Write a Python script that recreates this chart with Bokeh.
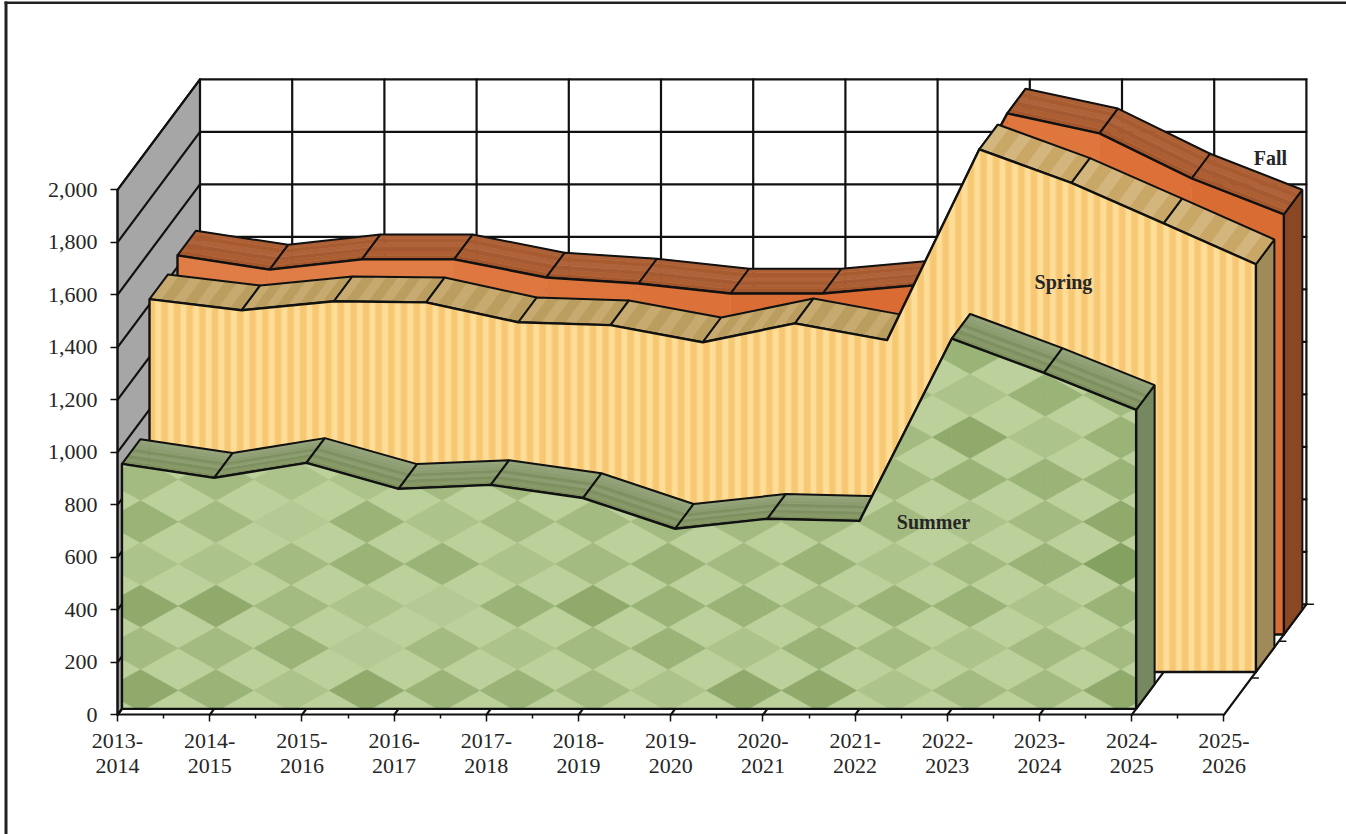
from bokeh.plotting import figure
from bokeh.models import Range1d, FixedTicker, BoxAnnotation, ColumnDataSource
from bokeh.core.properties import value
from bokeh.embed import file_html
from bokeh.resources import INLINE

# ---------- data ----------
SEASONS = ["2013-\n2014", "2014-\n2015", "2015-\n2016", "2016-\n2017", "2017-\n2018", "2018-\n2019", "2019-\n2020",
           "2020-\n2021", "2021-\n2022", "2022-\n2023", "2023-\n2024", "2024-\n2025", "2025-\n2026"]
SUMMER = [933, 880, 937, 838, 853, 803, 686, 724, 716, 1410, 1280, 1139]
SPRING = [1420, 1378, 1412, 1408, 1332, 1321, 1256, 1328, 1264, 1991, 1863, 1709, 1553]
FALL = [1444, 1390, 1429, 1429, 1360, 1337, 1299, 1299, 1330, 1985, 1909, 1737, 1600]
Y_TICKS = [0, 200, 400, 600, 800, 1000, 1200, 1400, 1600, 1800, 2000]
LABELS = ["Summer", "Spring", "Fall"]
LABEL_CAT = [8.85, 10.26, 12.505]
LABEL_VAL = [736, 1650, 2123]

# Diamond tones of the summer texture: row (from bottom) -> tone per column
TONE_ROWS = [
    [4, 3, 1, 4, 3, 3, 2, 1, 4, 4, 1, 2, 2, 4],
    [2, 2, 3, 0, 2, 1, 2, 3, 1, 3, 2, 1, 2, 2],
    [4, 4, 2, 1, 0, 3, 4, 3, 3, 2, 3, 3, 1, 3],
    [1, 1, 2, 3, 3, 1, 2, 3, 2, 3, 1, 2, 3, 5],
    [3, 2, 0, 3, 1, 2, 2, 2, 2, 2, 2, 1, 2, 4],
    [2, 2, 1, 1, 2, 2, 1, 2, 2, 2, 2, 3, 3, 3],
    [2, 2, 1, 1, 2, 2, 1, 2, 2, 2, 2, 4, 1, 3],
    [2, 2, 1, 1, 2, 2, 1, 2, 2, 2, 2, 1, 3, 2],
    [2, 2, 1, 1, 2, 2, 1, 2, 2, 2, 2, 3, 2, 2],
]
TONES = ["#b4c993", "#acc38c", "#a3bb81", "#9ab377", "#90aa6c", "#85a15f"]
FALL_FRONT_TONES = ["#e07c45", "#e07c45", "#e07c45", "#de7840", "#dd743c", "#dc723a",
                    "#da6d35", "#d96b33", "#dc7239", "#de763e", "#dc7038", "#d96c33"]

# ---------- scales (pixels per data unit) ----------
W, H = 1346, 834
PX_CAT, PX_VAL = 92.2, 0.2625
X0, Y0 = 117.0, 714.3
DX, DY = 82.5 / PX_CAT, 110.5 / PX_VAL          # one full depth in data units
D_SUM = (0.054, 0.278)
D_SPR = (0.388, 0.612)
D_FAL = (0.727, 0.951)

p = figure(width=W, height=H, output_backend="svg", toolbar_location=None,
           x_range=Range1d(-X0 / PX_CAT, (W - X0) / PX_CAT),
           y_range=Range1d(-(H - Y0) / PX_VAL, Y0 / PX_VAL),
           x_axis_location="below", y_axis_location="left", min_border=0)
p.grid.visible = False
p.outline_line_color = None


def proj(i, v, d=0.0):
    return i + d * DX, v + d * DY


def clip(subject, convex):
    """Sutherland-Hodgman; both are lists of (x, y)."""
    area = sum(convex[k][0] * convex[(k + 1) % len(convex)][1] - convex[(k + 1) % len(convex)][0] * convex[k][1]
               for k in range(len(convex)))
    sgn = 1 if area > 0 else -1
    out = list(subject)
    for k in range(len(convex)):
        a, b = convex[k], convex[(k + 1) % len(convex)]
        inp, out = out, []
        if not inp:
            break
        side = lambda q: sgn * ((b[0] - a[0]) * (q[1] - a[1]) - (b[1] - a[1]) * (q[0] - a[0]))
        for m in range(len(inp)):
            c, e = inp[m], inp[(m + 1) % len(inp)]
            sc, se = side(c), side(e)
            if sc >= 0:
                out.append(c)
            if (sc >= 0) != (se >= 0):
                t = sc / (sc - se)
                out.append((c[0] + t * (e[0] - c[0]), c[1] + t * (e[1] - c[1])))
    return out


def area_cols(vals, d):
    cols = []
    for k in range(len(vals) - 1):
        x0, y0 = proj(k, vals[k], d)
        x1, y1 = proj(k + 1, vals[k + 1], d)
        _, b = proj(k, 0, d)
        cols.append([(x0, b), (x1, b), (x1, y1), (x0, y0)])
    return cols


def front_polygon(vals, d):
    xs = [proj(k, v, d)[0] for k, v in enumerate(vals)]
    ys = [proj(k, v, d)[1] for k, v in enumerate(vals)]
    b = proj(0, 0, d)[1]
    return xs + [xs[-1], xs[0]], ys + [b, b]


def draw_polys(polys, colors, lw=0.6):
    src = ColumnDataSource(dict(xs=[[q[0] for q in P] for P in polys],
                                ys=[[q[1] for q in P] for P in polys], c=colors))
    p.patches("xs", "ys", source=src, fill_color="c", line_color="c", line_width=lw)


def lines(xs, ys, color="#111111", width=2.2):
    p.multi_line(xs, ys, line_color=color, line_width=width, line_join="round", line_cap="round")


# ---------- walls and floor ----------
p.patch([0, 0, DX, DX], [0, 2000, 2000 + DY, DY], fill_color="#a6a6a6", line_color="#111111", line_width=2)
ticks = Y_TICKS
lines([[proj(0, v)[0], proj(0, v, 1)[0]] for v in ticks], [[proj(0, v)[1], proj(0, v, 1)[1]] for v in ticks])
lines([[proj(0, v, 1)[0], proj(12, v, 1)[0]] for v in ticks], [[proj(0, v, 1)[1], proj(12, v, 1)[1]] for v in ticks])
lines([[proj(i, 0, 1)[0], proj(i, 2000, 1)[0]] for i in range(13)],
      [[proj(i, 0, 1)[1], proj(i, 2000, 1)[1]] for i in range(13)])
lines([[proj(i, 0)[0], proj(i, 0, 1)[0]] for i in range(13)], [[proj(i, 0)[1], proj(i, 0, 1)[1]] for i in range(13)])
TICK = 7 / PX_CAT
lines([[proj(12, 0, d)[0], proj(12, 0, d)[0] + TICK] for d in (1 / 3, 2 / 3, 1)],
      [[proj(12, 0, d)[1]] * 2 for d in (1 / 3, 2 / 3, 1)], width=1.5)


# ---------- series ----------
def top_faces(vals, d, style):
    d0, d1 = d
    for k in range(len(vals) - 1):
        a0, a1 = proj(k, vals[k], d0), proj(k + 1, vals[k + 1], d0)
        b0, b1 = proj(k, vals[k], d1), proj(k + 1, vals[k + 1], d1)
        polys, cols = [], []
        if style["kind"] == "along":
            n = len(style["tones"])
            for m in range(n):
                s, t = m / n, (m + 1) / n
                polys.append([(a0[0] + s * (b0[0] - a0[0]), a0[1] + s * (b0[1] - a0[1])),
                              (a1[0] + s * (b1[0] - a1[0]), a1[1] + s * (b1[1] - a1[1])),
                              (a1[0] + t * (b1[0] - a1[0]), a1[1] + t * (b1[1] - a1[1])),
                              (a0[0] + t * (b0[0] - a0[0]), a0[1] + t * (b0[1] - a0[1]))])
                cols.append(style["tones"][m])
        else:
            n = 8
            tones = style["tones_hi"] if k >= 9 else style["tones"]
            for m in range(n):
                s, t = m / n, (m + 1) / n
                polys.append([(a0[0] + s * (a1[0] - a0[0]), a0[1] + s * (a1[1] - a0[1])),
                              (a0[0] + t * (a1[0] - a0[0]), a0[1] + t * (a1[1] - a0[1])),
                              (b0[0] + t * (b1[0] - b0[0]), b0[1] + t * (b1[1] - b0[1])),
                              (b0[0] + s * (b1[0] - b0[0]), b0[1] + s * (b1[1] - b0[1]))])
                cols.append(tones[m % 2])
        draw_polys(polys, cols)
        p.patch([a0[0], a1[0], b1[0], b0[0]], [a0[1], a1[1], b1[1], b0[1]],
                fill_color=None, line_color="#111111", line_width=2)


def right_side(vals, d, color):
    n = len(vals) - 1
    a = proj(n, vals[n], d[0])
    b = proj(n, vals[n], d[1])
    c = proj(n, 0, d[1])
    e = proj(n, 0, d[0])
    p.patch([a[0], b[0], c[0], e[0]], [a[1], b[1], c[1], e[1]], fill_color=color, line_color="#111111", line_width=2)


def outline_front(vals, d):
    xs, ys = front_polygon(vals, d)
    p.patch(xs, ys, fill_color=None, line_color="#111111", line_width=2.4, line_join="round")


FALL_TOP = {"kind": "along", "tones": ["#a4562d", "#ad5f33", "#a65a31", "#b0633a", "#a95b30", "#ad6036"]}
SPR_TOP = {"kind": "across", "tones": ["#c6aa6f", "#ba9e60"], "tones_hi": ["#d3b67d", "#c9a767"]}
SUM_TOP = {"kind": "along", "tones": ["#7b8e5c", "#879968", "#7d9060", "#8c9d72", "#7f9162", "#8b9c70", "#8f9f76", "#93a37a"]}

# Fall
right_side(FALL, D_FAL, "#8a4724")
top_faces(FALL, D_FAL, FALL_TOP)
draw_polys(area_cols(FALL, D_FAL[0]), FALL_FRONT_TONES)
outline_front(FALL, D_FAL[0])

# Spring
right_side(SPRING, D_SPR, "#a08a5a")
top_faces(SPRING, D_SPR, SPR_TOP)
xs, ys = front_polygon(SPRING, D_SPR[0])
p.patch(xs, ys, fill_color="#fbd488", line_color=None)
STRIPE = 12.6 / PX_CAT
STRIPE_TONES = [("#f7c873", 0.0, 0.42), ("#fad184", 0.42, 0.5), ("#fddd97", 0.5, 0.92), ("#fad184", 0.92, 1.0)]
polys, cols = [], []
x_left, base = proj(0, 0, D_SPR[0])
x_right = proj(12, 0, D_SPR[0])[0]
n_stripes = int((x_right - x_left) / STRIPE) + 1
for col in area_cols(SPRING, D_SPR[0]):
    for s in range(n_stripes):
        for c, a, b in STRIPE_TONES:
            l, r = x_left + (s + a) * STRIPE, x_left + (s + b) * STRIPE
            piece = clip([(l, base), (r, base), (r, base + 3000), (l, base + 3000)], col)
            if len(piece) >= 3:
                polys.append(piece)
                cols.append(c)
draw_polys(polys, cols, lw=0.3)
outline_front(SPRING, D_SPR[0])

# Summer
right_side(SUMMER, D_SUM, "#76885f")
top_faces(SUMMER, D_SUM, SUM_TOP)
xs, ys = front_polygon(SUMMER, D_SUM[0])
p.patch(xs, ys, fill_color="#bcd09b", line_color=None)
DIA_W, DIA_H = 75.4 / PX_CAT, 42.2 / PX_VAL
COL0 = (140 - X0) / PX_CAT
ROW0 = (Y0 - 690) / PX_VAL
polys, cols = [], []
summer_cols = area_cols(SUMMER, D_SUM[0])
for r, row in enumerate(TONE_ROWS):
    for c_i, tone in enumerate(row):
        cx, cy = COL0 + c_i * DIA_W, ROW0 + r * DIA_H
        diamond = [(cx - DIA_W / 2, cy), (cx, cy - DIA_H / 2), (cx + DIA_W / 2, cy), (cx, cy + DIA_H / 2)]
        for col in summer_cols:
            piece = clip(diamond, col)
            if len(piece) >= 3:
                polys.append(piece)
                cols.append(TONES[tone])
draw_polys(polys, cols, lw=0.3)
outline_front(SUMMER, D_SUM[0])

# ---------- texts ----------
p.text(LABEL_CAT, LABEL_VAL, text=LABELS, text_font=value("Liberation Serif"), text_font_size="20px",
       text_font_style="bold", text_color="#262626", text_align="center", text_baseline="middle")

# ---------- axes ----------
xa, ya = p.xaxis[0], p.yaxis[0]
xa.fixed_location = 0
ya.fixed_location = 0
xa.bounds = (0, 12)
ya.bounds = (0, 2000)
xa.ticker = FixedTicker(ticks=list(range(13)), minor_ticks=[i + 0.5 for i in range(12)])
ya.ticker = FixedTicker(ticks=Y_TICKS)
xa.major_label_overrides = {i: s for i, s in enumerate(SEASONS)}
ya.major_label_overrides = {v: f"{v:,}" for v in Y_TICKS}
for ax in (xa, ya):
    ax.axis_line_color = "#111111"
    ax.axis_line_width = 2
    ax.major_tick_line_color = "#111111"
    ax.major_tick_line_width = 1.5
    ax.minor_tick_line_color = "#111111"
    ax.minor_tick_line_width = 1.5
    ax.major_label_text_font = "Liberation Serif"
    ax.major_label_text_font_size = "22px"
    ax.major_label_text_color = "#262626"
    ax.major_label_text_line_height = 1.0
xa.major_tick_out, xa.major_tick_in = 7, 0
xa.minor_tick_out, xa.minor_tick_in = 4, 0
ya.major_tick_out, ya.major_tick_in = 7, 0
ya.minor_tick_out, ya.minor_tick_in = 0, 0
xa.major_label_standoff = 6
ya.major_label_standoff = 13
xa.major_label_orientation = "horizontal"

# ---------- outer border of the chart area ----------
p.add_layout(BoxAnnotation(left=4, right=7, top=1, bottom=834, left_units="canvas", right_units="canvas",
                           top_units="canvas", bottom_units="canvas", fill_color="#222222", fill_alpha=1, line_color=None))
p.add_layout(BoxAnnotation(left=4, right=1346, top=1, bottom=3.5, left_units="canvas", right_units="canvas",
                           top_units="canvas", bottom_units="canvas", fill_color="#222222", fill_alpha=1, line_color=None))

open("out.html", "w").write(file_html(p, INLINE))
